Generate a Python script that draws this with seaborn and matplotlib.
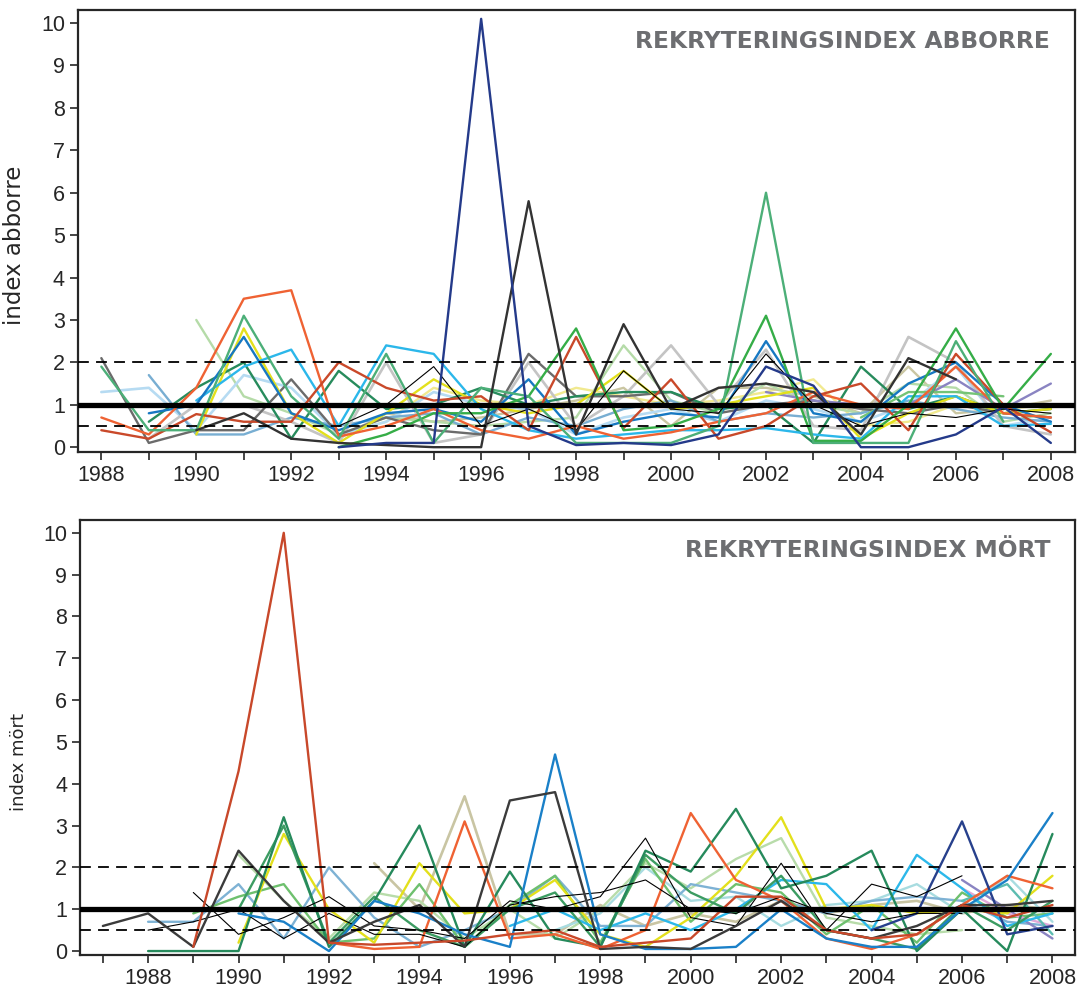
import numpy as np
import pandas as pd
import matplotlib
matplotlib.use("Agg")
import matplotlib.pyplot as plt
import seaborn as sns

nan = np.nan

# ---- data: abborre (1988-2008) ----
years_abb = list(range(1988, 2009))
abb_navy = [nan, nan, nan, nan, nan, 0.0, 0.1, 0.1, 10.1, 0.5, 0.05, 0.1, 0.05, 0.3, 1.9, 1.45, 0.0, 0.0, 0.3, 0.95, 0.1]
abb_darkgray = [nan, nan, 0.4, 0.8, 0.2, 0.1, 0.05, 0.0, 0.0, 5.8, 0.3, 2.9, 0.9, 1.4, 1.5, 1.3, 0.3, 2.1, 1.6, nan, nan]
abb_medgreen = [1.9, 0.4, 0.4, 3.1, 1.2, 0.2, 2.2, 0.1, 1.4, 1.2, 0.1, 0.1, 0.1, 0.5, 6.0, 0.1, 0.1, 0.1, 2.5, 0.6, nan]
abb_orange = [0.7, 0.3, 1.4, 3.5, 3.7, 0.25, 0.5, 0.9, 0.4, 0.2, 0.5, 0.2, 0.35, 0.6, 0.8, 1.3, 1.0, 0.9, 1.9, 0.8, 0.7]
abb_darkred = [0.4, 0.2, 0.78, 0.6, 0.6, 2.0, 1.4, 1.1, 1.2, 0.4, 2.6, 0.45, 1.6, 0.2, 0.5, 1.2, 1.5, 0.4, 2.2, 1.0, 0.35]
abb_green = [nan, nan, nan, nan, nan, 0.0, 0.3, 0.8, 0.8, 1.2, 2.8, 0.4, 0.5, 0.9, 3.1, 0.15, 0.15, 1.0, 2.8, 0.9, 2.2]
abb_yellow = [nan, nan, 0.3, 2.8, 0.8, 0.1, 0.8, 1.6, 1.0, 0.8, 1.0, 1.8, 0.9, 1.0, 1.2, 1.4, 0.2, 0.8, 1.2, 0.8, 0.9]
abb_blue = [nan, 0.8, 1.0, 2.6, 0.8, 0.4, 0.8, 0.9, 0.6, 1.6, 0.3, 0.6, 0.8, 0.7, 2.5, 0.8, 0.6, 1.5, 2.0, 1.0, 0.6]
abb_lightblue = [nan, nan, 1.1, 1.9, 2.3, 0.5, 2.4, 2.2, 0.9, 0.4, 0.2, 0.3, 0.4, 0.4, 0.45, 0.3, 0.2, 1.2, 1.2, 0.5, 0.55]
abb_paleblue = [1.3, 1.4, 0.4, 1.7, 1.4, 0.3, 0.6, 1.3, 1.0, 0.9, 0.3, 0.7, 0.9, 0.6, 1.1, 0.9, 0.6, 1.0, 1.9, 0.5, 0.7]
abb_steelblue = [nan, 1.7, 0.3, 0.3, 0.7, 0.5, 0.7, 0.8, 0.3, 0.7, 0.5, 0.9, 1.1, 0.6, 0.8, 0.7, 0.8, 1.1, 0.9, 0.7, 0.6]
abb_gray = [2.1, 0.1, 0.4, 0.4, 1.6, 0.3, 0.7, 0.4, 0.3, 2.2, 1.2, 1.2, 1.3, 0.8, 1.0, 1.1, 0.9, 0.8, 1.0, 0.8, 0.7]
abb_lightgray = [nan, 0.2, 1.0, 1.0, 0.6, 0.1, 2.0, 0.1, 0.3, 2.0, 0.5, 1.2, 2.4, 1.0, 2.3, 0.5, 0.4, 2.6, 2.0, 0.5, 0.3]
abb_palegreen = [nan, nan, 3.0, 1.2, 0.8, 0.3, 0.7, 0.6, 0.5, 0.6, 0.7, 2.4, 1.1, 0.8, 1.5, 1.0, 0.8, 1.5, 1.4, 0.6, 0.8]
abb_black = [nan, nan, nan, nan, nan, 0.5, 1.0, 1.9, 0.5, 0.9, 0.4, 1.8, 0.9, 0.8, 2.2, 1.0, 0.5, 0.8, 0.7, 0.9, 0.8]
abb_darkgreen = [nan, 0.6, 1.4, 2.0, 0.2, 1.8, 0.9, 1.0, 1.4, 1.0, 1.2, 1.3, 1.3, 0.9, 1.0, 0.1, 1.9, 0.9, 1.2, 0.8, 0.9]
abb_khaki = [nan, nan, nan, nan, nan, 0.2, 0.8, 0.6, 0.7, 0.9, 1.1, 1.4, 0.5, 1.4, 1.4, 1.2, 0.8, 1.9, 0.8, 0.9, 1.1]
abb_lightyellow = [nan, nan, nan, nan, nan, 0.3, 0.6, 1.4, 1.1, 1.0, 1.4, 1.2, 1.0, 1.1, 1.3, 1.6, 0.5, 0.6, 1.0, 0.9, 1.0]
abb_purple = [nan, nan, nan, nan, nan, nan, nan, nan, nan, nan, nan, nan, nan, nan, 1.3, 1.1, 1.0, 1.0, 1.6, 0.9, 1.5]
abb_lightgreen = [nan, nan, nan, nan, nan, nan, nan, nan, nan, nan, nan, nan, nan, nan, nan, nan, 0.7, 1.3, 1.3, 1.2, nan]

# ---- data: mört (1987-2008) ----
years_mort = list(range(1987, 2009))
mort_darkred = [nan, nan, 0.1, 4.3, 10.0, 0.2, 0.15, 0.2, 0.25, 0.4, 0.5, 0.1, 0.2, 0.3, 1.3, 1.3, 0.5, 0.3, 0.4, 1.1, 0.8, 1.1]
mort_darkgray = [0.6, 0.9, 0.1, 2.4, 1.2, 0.2, 0.7, 1.1, 0.1, 3.6, 3.8, 0.05, 0.1, 0.05, 0.6, 1.2, 0.5, 0.3, 0.6, 1.1, 1.1, 1.2]
mort_blue = [nan, nan, nan, 0.9, 0.7, 0.0, 1.2, 0.9, 0.4, 0.1, 4.7, 0.4, 0.05, 0.05, 0.1, 1.0, 0.3, 0.1, 0.1, 1.0, 1.7, 3.3]
mort_orange = [nan, nan, nan, nan, nan, 0.2, 0.05, 0.1, 3.1, 0.3, 0.4, 0.05, 0.5, 3.3, 1.7, 1.2, 0.3, 0.05, 0.4, 1.1, 1.8, 1.5]
mort_khaki = [nan, nan, nan, nan, nan, nan, 2.1, 1.0, 3.7, 0.4, 0.4, 1.1, 0.6, 0.9, 0.7, 1.2, 0.9, 1.1, 1.2, 0.9, 1.1, 1.0]
mort_darkgreen = [nan, 0.0, 0.0, 0.0, 3.2, 0.1, 1.2, 3.0, 0.1, 1.9, 0.3, 0.1, 2.4, 1.9, 3.4, 1.5, 1.8, 2.4, 0.0, 1.0, 0.0, 2.8]
mort_medgreen = [nan, nan, nan, 1.0, 3.0, 0.2, 1.3, 0.5, 0.1, 1.0, 1.4, 0.1, 2.3, 1.4, 0.9, 1.8, 0.5, 0.3, 0.05, 1.1, 0.5, 1.2]
mort_yellow = [nan, nan, nan, 0.2, 2.8, 1.0, 0.2, 2.1, 0.9, 1.0, 1.7, 0.4, 0.1, 0.8, 1.8, 3.2, 1.0, 1.1, 0.9, 1.0, 0.9, 1.8]
mort_palegreen = [nan, nan, nan, 2.3, 1.2, 0.3, 1.4, 1.2, 0.3, 1.0, 0.3, 1.0, 2.1, 1.5, 2.2, 2.7, 0.8, 0.6, 0.4, 0.5, nan, nan]
mort_navy = [nan, nan, nan, nan, nan, nan, nan, nan, nan, nan, nan, nan, nan, nan, nan, nan, nan, 0.5, 0.9, 3.1, 0.4, 0.6]
mort_lightblue = [nan, nan, nan, nan, nan, nan, nan, nan, nan, 0.6, 1.0, 0.5, 0.9, 0.5, 1.0, 1.7, 1.6, 0.5, 2.3, 1.5, 0.6, 0.9]
mort_lightgreen = [nan, nan, 0.9, 1.3, 1.6, 0.2, 0.3, 1.6, 0.1, 1.1, 1.8, 0.2, 2.2, 0.7, 1.6, 1.4, 0.4, 1.1, 0.2, 1.4, 0.8, 0.9]
mort_steelblue = [nan, 0.7, 0.7, 1.6, 0.3, 2.0, 0.8, 0.1, 0.5, 1.0, 1.8, 0.6, 0.6, 1.6, 1.4, 1.2, 0.9, 1.2, 1.3, 1.2, 0.7, 0.6]
mort_black1 = [nan, nan, 1.4, 0.4, 0.8, 1.3, 0.6, 0.5, 0.3, 1.2, 1.0, 1.3, 2.7, 0.8, 0.6, 2.1, 0.5, 1.6, 1.3, 1.8, nan, nan]
mort_black2 = [nan, 0.5, 0.7, 1.0, 0.3, 0.9, 0.4, 0.4, 0.1, 1.1, 1.3, 1.4, 1.7, 1.0, 0.9, 1.3, 0.9, 0.7, 0.9, 0.9, nan, nan]
mort_paleteal = [nan, nan, nan, nan, nan, nan, nan, nan, nan, nan, 0.5, 0.9, 2.0, 1.2, 1.3, 0.6, 1.1, 1.2, 1.6, 0.9, 1.8, 0.7]
mort_purple = [nan, nan, nan, nan, nan, nan, nan, nan, nan, nan, nan, nan, nan, nan, nan, nan, nan, nan, nan, 1.7, 1.0, 0.3]
mort_pink = [nan, nan, nan, nan, nan, nan, nan, nan, nan, nan, nan, nan, nan, nan, nan, nan, nan, nan, nan, 1.5, 0.9, 0.6]
mort_teal = [nan, nan, nan, nan, nan, nan, nan, nan, nan, nan, nan, nan, nan, nan, nan, nan, nan, nan, nan, 1.2, 1.6, 0.4]

# (values, colour, linewidth)
abb_series = [
    (abb_lightyellow, "#f1e98f", 1.7), (abb_khaki, "#cac6a2", 1.7),
    (abb_palegreen, "#b5dba8", 1.7), (abb_paleblue, "#b6dbf2", 1.9),
    (abb_steelblue, "#78aed2", 1.7), (abb_lightgray, "#c4c4c4", 1.9),
    (abb_gray, "#6b6b6b", 1.7), (abb_darkgreen, "#278b5c", 1.7),
    (abb_purple, "#8a84c2", 1.7), (abb_lightgreen, "#74c476", 1.7),
    (abb_yellow, "#e3e01c", 1.7), (abb_lightblue, "#2bb7ea", 1.7),
    (abb_blue, "#1778c2", 1.7), (abb_orange, "#ef6233", 1.7),
    (abb_darkred, "#c9492a", 1.7), (abb_green, "#35ad47", 1.7),
    (abb_medgreen, "#4caf78", 1.7), (abb_black, "#000000", 0.8),
    (abb_darkgray, "#333333", 1.7), (abb_navy, "#243a8a", 1.7),
]
mort_series = [
    (mort_khaki, "#c9c5a3", 1.9), (mort_palegreen, "#b8dcaa", 1.7),
    (mort_paleteal, "#a8dce0", 1.7), (mort_steelblue, "#7eb2d4", 1.7),
    (mort_lightgreen, "#6ec06e", 1.7), (mort_purple, "#8a84c2", 1.7),
    (mort_pink, "#e0a8d8", 1.7), (mort_teal, "#5cbcb0", 1.7),
    (mort_yellow, "#e3e01c", 1.7), (mort_lightblue, "#2cb8ea", 1.7),
    (mort_medgreen, "#3c9c62", 1.7), (mort_darkgreen, "#268a5c", 1.7),
    (mort_orange, "#ef6233", 1.7), (mort_navy, "#27408c", 1.7),
    (mort_black1, "#000000", 0.8), (mort_black2, "#000000", 0.8),
    (mort_blue, "#1a80c8", 1.7), (mort_darkgray, "#3b3b3b", 1.7),
    (mort_darkred, "#c8482a", 1.7),
]

sns.set_style("ticks")
plt.rcParams['font.family'] = ['Liberation Sans', 'DejaVu Sans']

fig = plt.figure(figsize=(10.92, 9.94), dpi=100)
ax1 = fig.add_axes([0.0715, 0.545, 0.913, 0.445])
ax2 = fig.add_axes([0.0735, 0.039, 0.911, 0.438])


def draw_panel(ax, years, series, xlim, ylim, ticks, title, ylabel, ylabel_size):
    for vals, color, lw in series:
        df = pd.DataFrame({"year": years, "index": vals}).dropna()
        sns.lineplot(data=df, x="year", y="index", color=color, linewidth=lw,
                     ax=ax, legend=False)
    ax.axhline(1, color="black", linewidth=3.8, zorder=5)
    ax.axhline(2, color="black", linewidth=1.3, linestyle=(0, (6, 4)), zorder=5)
    ax.axhline(0.5, color="black", linewidth=1.3, linestyle=(0, (6, 4)), zorder=5)

    ax.set_xlim(*xlim)
    ax.set_ylim(*ylim)
    ax.set_xticks(ticks)
    ax.set_xticklabels([str(t) if t % 2 == 0 else "" for t in ticks])
    ax.set_yticks(range(0, 11))
    ax.tick_params(axis="both", labelsize=15.5, length=6, width=1.2, direction="out")
    ax.set_xlabel("")
    ax.set_ylabel(ylabel, fontsize=ylabel_size, family=["DejaVu Sans"])
    for s in ax.spines.values():
        s.set_visible(True)
        s.set_linewidth(1.6)
    ax.text(0.975, 0.955, title, transform=ax.transAxes, ha="right", va="top",
            fontsize=16.8, fontweight="bold", color="#6d6e71", family=["DejaVu Sans"])


draw_panel(ax1, years_abb, abb_series, (1987.51, 2008.51), (-0.12, 10.31),
           list(range(1988, 2009)), "REKRYTERINGSINDEX ABBORRE", "index abborre", 16.5)
draw_panel(ax2, years_mort, mort_series, (1986.5, 2008.5), (-0.1, 10.31),
           list(range(1987, 2009)), "REKRYTERINGSINDEX MÖRT", "index mört", 13)

ax1.yaxis.set_label_coords(-0.052, 0.468)
ax2.yaxis.set_label_coords(-0.053, 0.444)

fig.savefig("out.png", dpi=100)
